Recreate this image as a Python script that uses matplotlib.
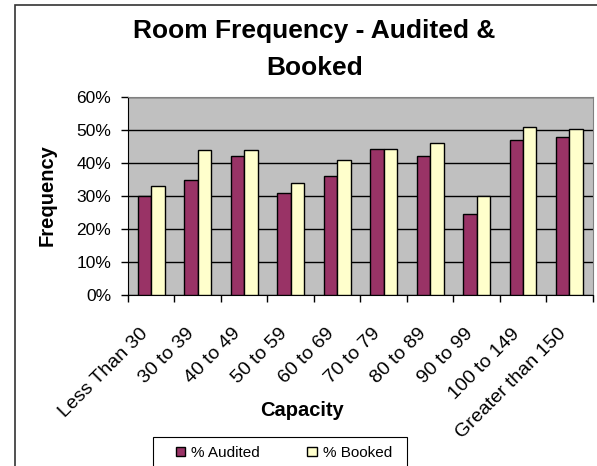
import numpy as np
import matplotlib
matplotlib.use('Agg')
import matplotlib.pyplot as plt
import matplotlib.transforms as mtransforms
from matplotlib.patches import Rectangle
from matplotlib.ticker import PercentFormatter

plt.rcParams['font.family'] = ['Liberation Sans', 'DejaVu Sans']

categories = ['Less Than 30', '30 to 39', '40 to 49', '50 to 59', '60 to 69',
              '70 to 79', '80 to 89', '90 to 99', '100 to 149', 'Greater than 150']
audited = [30, 35, 42, 31, 36, 44.3, 42, 24.6, 47, 48]
booked = [33, 44, 44, 34, 41, 44.3, 46, 30, 51, 50.3]
y_ticks = [0, 10, 20, 30, 40, 50, 60]

fig = plt.figure(figsize=(5.97, 4.66), dpi=100)
ax = fig.add_axes([0.2144, 0.367, 0.7784, 0.4248])

# outer chart frame (only left/top edges visible in the image)
fig.patches.append(Rectangle((0.025, -0.5), 2, 1.489, transform=fig.transFigure,
                             fill=False, edgecolor='#333333', linewidth=1.2))

x = np.arange(len(categories))
w = 0.29
ax.bar(x - w / 2, audited, w, color='#993366', edgecolor='black', linewidth=1, zorder=3,
       label='% Audited')
ax.bar(x + w / 2, booked, w, color='#FFFFCC', edgecolor='black', linewidth=1, zorder=3,
       label='% Booked')

ax.set_facecolor('#C0C0C0')
ax.set_xlim(-0.5, len(categories) - 0.5)
ax.set_ylim(0, 60)
ax.set_yticks(y_ticks)
ax.yaxis.set_major_formatter(PercentFormatter(decimals=0))
ax.grid(axis='y', color='black', linewidth=1, zorder=1)
ax.tick_params(axis='y', labelsize=12.5, length=5, width=1, direction='out', pad=7)

# category ticks sit between the groups, labels at group centres
ax.set_xticks(np.arange(-0.5, len(categories), 1))
ax.set_xticklabels([])
ax.set_xticks(x, minor=True)
ax.set_xticklabels(categories, minor=True, rotation=45, ha='right', va='center',
                   rotation_mode='anchor', fontsize=14)
ax.tick_params(axis='x', which='major', length=5, width=1, direction='out')
ax.tick_params(axis='x', which='minor', length=0, pad=26)
shift = mtransforms.ScaledTranslation(-0.06, 0, fig.dpi_scale_trans)
for lbl in ax.get_xticklabels(minor=True):
    lbl.set_transform(lbl.get_transform() + shift)

for side in ['top', 'right']:
    ax.spines[side].set_color('#808080')
for side in ['left', 'bottom']:
    ax.spines[side].set_color('black')

fig.text(0.527, 0.894, 'Room Frequency - Audited &\nBooked', ha='center', va='center',
         fontsize=19, fontweight='bold', linespacing=1.66)
fig.text(0.0787, 0.5815, 'Frequency', rotation=90, ha='center', va='center',
         fontsize=14.5, fontweight='bold')
fig.text(0.506, 0.12, 'Capacity', ha='center', va='center',
         fontsize=14.5, fontweight='bold')

# legend box runs off the bottom of the picture
fig.patches.append(Rectangle((153 / 597, -0.1), 254 / 597, 0.1622, transform=fig.transFigure,
                             fill=False, edgecolor='black', linewidth=0.8))
fig.legend(loc='center left', bbox_to_anchor=(176 / 597, 1 - 453 / 466), ncol=2,
           fontsize=11, frameon=False, handlelength=0.6, handleheight=0.6,
           columnspacing=3.1, borderpad=0, handletextpad=0.4, borderaxespad=0)

fig.savefig('out.png', dpi=100)
